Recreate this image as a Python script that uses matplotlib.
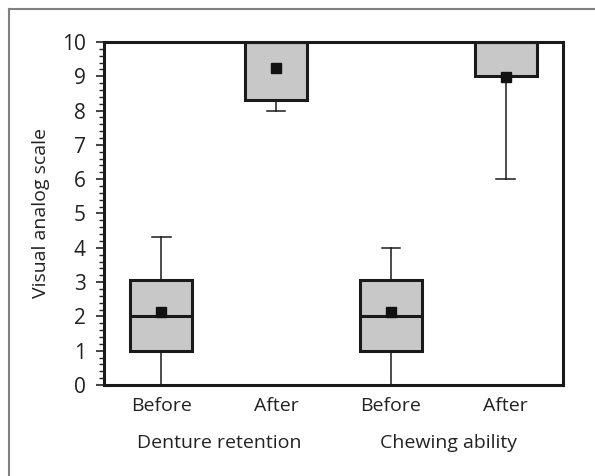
import matplotlib
matplotlib.use("Agg")
import matplotlib.pyplot as plt
from matplotlib.lines import Line2D
from matplotlib.ticker import MultipleLocator
import matplotlib.transforms as mtransforms

plt.rcParams['font.family'] = ['Open Sans', 'DejaVu Sans']

# box statistics
tick_labels = ["Before", "After", "Before", "After"]
groups = ["Denture retention", "Chewing ability"]
whislo = [0, 8, 0, 6]
q1 = [1, 8.3, 1, 9]
med = [2, 10, 2, 10]
q3 = [3.05, 10, 3.05, 10]
whishi = [4.3, 10, 4.0, 10]
means = [2.13, 9.24, 2.13, 8.97]

stats = []
for i in range(len(tick_labels)):
    stats.append(dict(whislo=whislo[i], q1=q1[i], med=med[i], q3=q3[i],
                      whishi=whishi[i], mean=means[i], fliers=[]))

fig = plt.figure(figsize=(5.95, 4.76), dpi=100)
ax = fig.add_axes([0.1748, 0.1912, 0.7714, 0.7206])

pos = [1, 2, 3, 4]
ax.bxp(stats, positions=pos, widths=0.54, patch_artist=True, showmeans=True,
       showfliers=False, capwidths=0.16,
       boxprops=dict(facecolor="#c8c8c8", edgecolor="#1a1a1a", linewidth=2.2),
       medianprops=dict(color="#1a1a1a", linewidth=2.2),
       whiskerprops=dict(color="#1a1a1a", linewidth=1.1),
       capprops=dict(color="#1a1a1a", linewidth=1.1),
       meanprops=dict(marker="s", markerfacecolor="#111111", markeredgecolor="#111111",
                      markersize=7))

ax.set_xlim(0.5, 4.5)
ax.set_ylim(0, 10)
ax.set_xticks(pos)
ax.set_xticklabels(tick_labels)
ax.yaxis.set_major_locator(MultipleLocator(1))
ax.yaxis.set_minor_locator(MultipleLocator(0.2))
ax.tick_params(axis="x", length=0, pad=9, labelsize=14, colors="#222222")
ax.tick_params(axis="y", which="major", length=6, width=1.2, labelsize=15, pad=7,
               colors="#222222")
ax.tick_params(axis="y", which="minor", length=3.5, width=1.0, colors="#222222")
for s in ax.spines.values():
    s.set_linewidth(2.2)
    s.set_color("#1a1a1a")

ax.set_ylabel("Visual analog scale", fontsize=14, color="#222222", labelpad=9)

trans = mtransforms.blended_transform_factory(ax.transData, ax.transAxes)
ax.text(1.5, -0.17, groups[0], transform=trans, ha="center", va="center",
        fontsize=14, color="#222222")
ax.text(3.5, -0.17, groups[1], transform=trans, ha="center", va="center",
        fontsize=14, color="#222222")

# partial outer frame
fig.add_artist(Line2D([9/595, 1], [1 - 9/476, 1 - 9/476], transform=fig.transFigure,
                      color="#808080", linewidth=1.5))
fig.add_artist(Line2D([9/595, 9/595], [0, 1 - 9/476], transform=fig.transFigure,
                      color="#808080", linewidth=1.5))

fig.savefig("out.png", dpi=100)
